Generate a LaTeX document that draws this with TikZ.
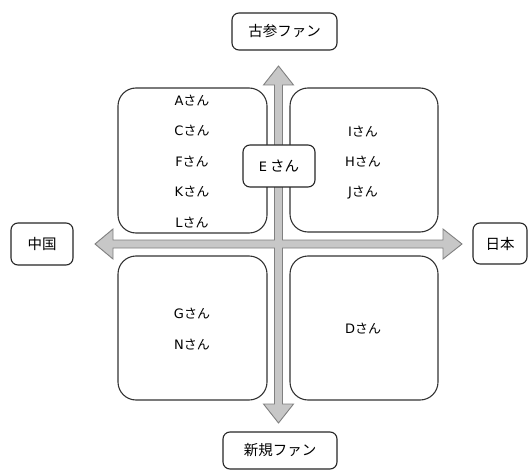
\documentclass[tikz,border=0pt]{standalone}
\usepackage{fontspec}
\setmainfont{Noto Sans CJK JP}
\newfontfamily\latfont{DejaVu Sans}
\newcommand{\lt}[1]{{\latfont\fontsize{13}{15}\selectfont #1}}
\begin{document}
\begin{tikzpicture}[x=1pt,y=-1pt,
  quad/.style={draw=black!80,line width=1.1pt,rounded corners=18pt,fill=white,
    minimum width=149pt,minimum height=145pt,inner sep=0pt},
  lab/.style={draw=black!85,line width=1.1pt,rounded corners=7pt,fill=white,
    inner sep=0pt,font=\fontsize{14.5}{17}\selectfont},
  nm/.style={inner sep=0pt,font=\fontsize{13}{15}\selectfont},
  axis/.style={draw=black!50,fill=black!22,line width=0.9pt,line join=miter}]
\useasboundingbox (0,0) rectangle (529,470);
% axes cross
\filldraw[axis] (278.5,66) -- (293.5,85) -- (282.5,85) -- (282.5,240) -- (443,240) -- (443,229) -- (462,244) -- (443,259) -- (443,248) -- (282.5,248) -- (282.5,404) -- (293.5,404) -- (278.5,423) -- (263.5,404) -- (274.5,404) -- (274.5,248) -- (113,248) -- (113,259) -- (95,244) -- (113,229) -- (113,240) -- (274.5,240) -- (274.5,85) -- (263.5,85) -- cycle;
% quadrants
\node[quad] (tl) at (192.5,160.5) {};
\node[quad,minimum width=148pt,minimum height=144pt] (tr) at (364,160) {};
\node[quad,minimum height=144pt] (bl) at (192.5,328) {};
\node[quad,minimum width=148pt,minimum height=144pt] (br) at (364,328) {};
% names
\node[nm] (a) at (192,101) {\lt{A}さん};
\node[nm] (c) at (192,131) {\lt{C}さん};
\node[nm] (f) at (192,162) {\lt{F}さん};
\node[nm] (k) at (192,192) {\lt{K}さん};
\node[nm] (l) at (192,223) {\lt{L}さん};
\node[nm] (i) at (363,132) {\lt{I}さん};
\node[nm] (h) at (363,162) {\lt{H}さん};
\node[nm] (j) at (363,193) {\lt{J}さん};
\node[nm] (g) at (192,314) {\lt{G}さん};
\node[nm] (n) at (192,345) {\lt{N}さん};
\node[nm] (d) at (363,329) {\lt{D}さん};
% labels
\node[lab,minimum width=72pt,minimum height=42pt] (e) at (279,166) {\lt{E} さん};
\node[lab,minimum width=105pt,minimum height=37pt] (top) at (284.5,31.5) {古参ファン};
\node[lab,minimum width=114pt,minimum height=37pt] (bot) at (280,450.5) {新規ファン};
\node[lab,minimum width=62pt,minimum height=42pt] (left) at (42,244) {中国};
\node[lab,minimum width=54pt,minimum height=41pt] (right) at (500,243.5) {日本};
\end{tikzpicture}
\end{document}
